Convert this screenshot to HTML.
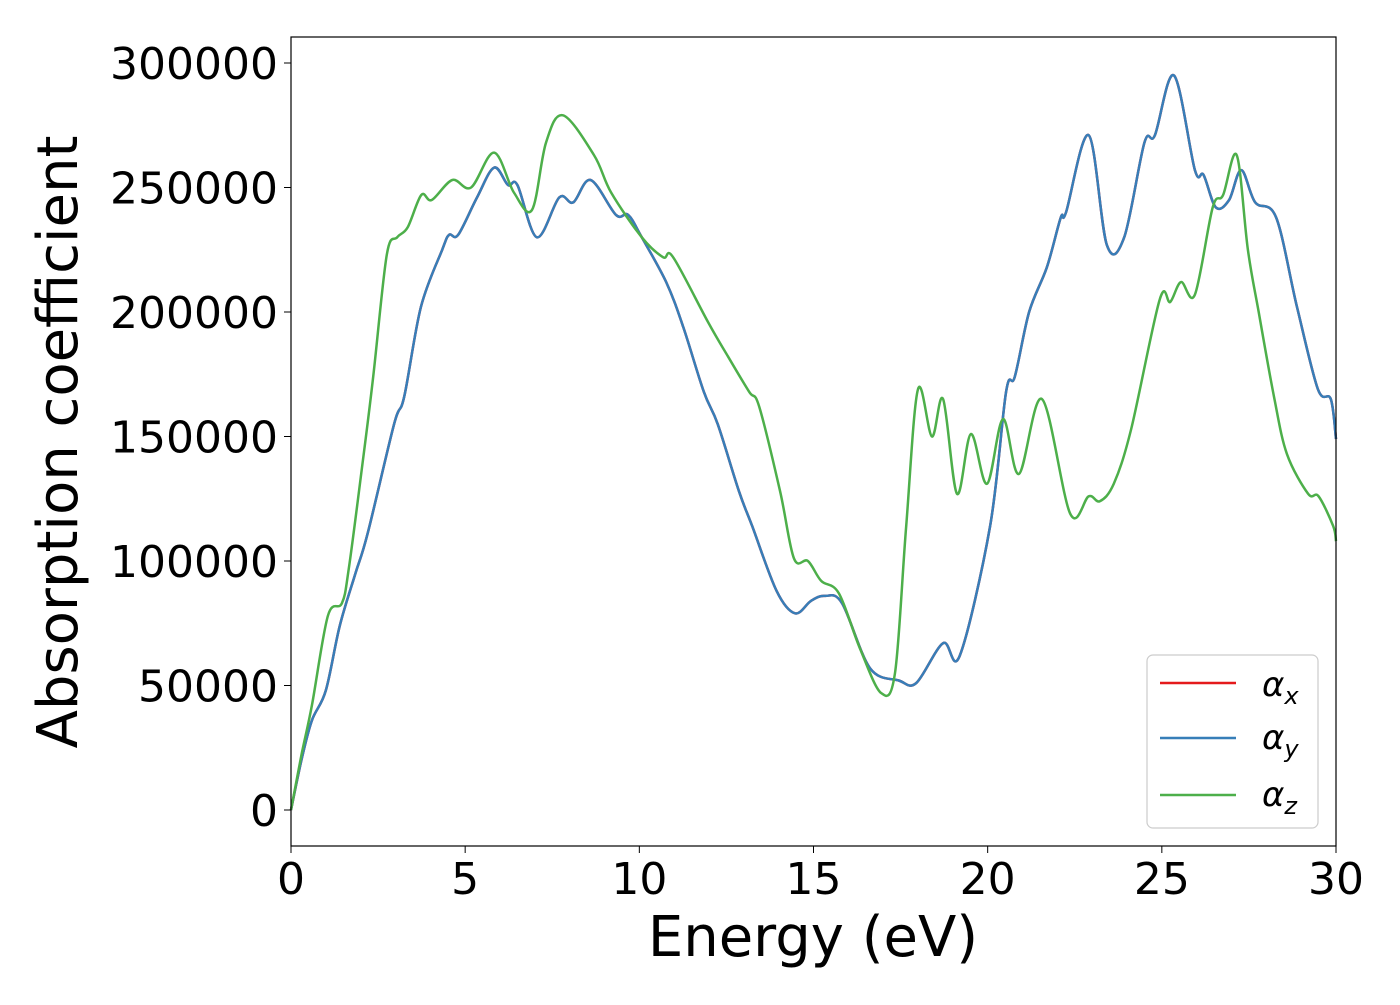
<!DOCTYPE html>
<html><head><meta charset="utf-8"><style>
html,body{margin:0;padding:0;background:#fff;}
svg text{font-family:"DejaVu Sans","Liberation Sans",sans-serif;fill:#000;}
</style></head><body>
<svg id="chart" width="1400" height="1000" viewBox="0 0 1400 1000" xmlns="http://www.w3.org/2000/svg">
<g id="plot"></g>
<rect x="291" y="37" width="1045" height="809" fill="none" stroke="#000" stroke-width="1.2"/>
<g id="xticks"></g><g id="yticks"></g>
<text x="813" y="956" font-size="56" text-anchor="middle">Energy (eV)</text>
<text transform="translate(77,442) rotate(-90)" font-size="56" text-anchor="middle">Absorption coefficient</text>
<g>
<rect x="1147" y="655" width="171" height="173" rx="6" fill="#fff" fill-opacity="0.8" stroke="#ccc" stroke-width="1.2"/>
<line x1="1160" y1="683" x2="1236" y2="683" stroke="#e41a1c" stroke-width="2.5"/>
<text x="1262" y="696" font-size="34" font-style="italic">α<tspan font-size="24" dy="8">x</tspan></text>
<line x1="1160" y1="738" x2="1236" y2="738" stroke="#377eb8" stroke-width="2.5"/>
<text x="1262" y="749" font-size="34" font-style="italic">α<tspan font-size="24" dy="8">y</tspan></text>
<line x1="1160" y1="795" x2="1236" y2="795" stroke="#4daf4a" stroke-width="2.5"/>
<text x="1262" y="806" font-size="34" font-style="italic">α<tspan font-size="24" dy="8">z</tspan></text>
</g>
</svg>
<script>
const energyY=[0,0.3,0.6,1.0,1.4,1.85,2.2,2.96,3.25,3.73,4.34,4.54,4.8,5.34,5.83,6.23,6.5,7.06,7.7,8.1,8.6,9.33,9.68,10.07,10.77,11.26,11.85,12.25,12.86,13.24,13.94,14.47,14.93,15.33,15.82,16.62,17.45,17.95,18.72,19.2,20.07,20.53,20.78,21.19,21.7,22.1,22.25,22.9,23.42,23.92,24.5,24.8,25.35,25.95,26.2,26.55,26.93,27.28,27.68,28.28,28.88,29.48,29.85,30];
const alphaY=[0,20000,36000,48000,74000,95000,111000,155000,166000,202000,225000,231000,231000,246000,258000,251000,251000,230000,246000,244000,253000,239000,239000,230000,212000,194000,168000,155000,128000,114000,88000,79000,84000,86000,83000,57000,52000,51000,67000,62000,114000,168000,174000,200000,218000,238000,240000,271000,227000,230000,268000,271000,295000,257000,255000,242000,245000,257000,244000,238000,202000,169000,165000,149000];
const alphaX=alphaY.slice();
const energyZ=[0,0.3,0.6,1.06,1.46,1.66,2.07,2.36,2.75,3.05,3.35,3.74,4.04,4.63,5.17,5.83,6.4,6.92,7.32,7.81,8.7,9.19,10.07,10.68,10.97,11.97,12.55,13.15,13.44,14.04,14.44,14.84,15.22,15.73,16.33,16.94,17.34,17.66,18.0,18.4,18.72,19.12,19.52,19.98,20.44,20.9,21.56,22.37,22.9,23.22,23.62,24.12,24.94,25.24,25.55,25.95,26.46,26.76,27.15,27.47,27.78,28.22,28.59,29.2,29.5,29.92,30];
const alphaZ=[0,22000,42000,78000,83000,97000,141000,174000,223000,230000,234000,247000,245000,253000,250000,264000,248000,241000,268000,279000,263000,248000,230000,222000,222000,196000,182000,168000,162000,128000,101000,100000,92000,87000,65000,47000,55000,114000,169000,150000,165000,127000,151000,131000,157000,135000,165000,119000,126000,124000,131000,153000,205000,204000,212000,207000,242000,247000,263000,225000,200000,166000,143000,127000,126000,114000,108000];
const xTicks=[0,5,10,15,20,25,30];
const yTicks=[0,50000,100000,150000,200000,250000,300000];
const sx=e=>291+e*(1045/30);
const sy=v=>810-v*(747/300000);
const NS="http://www.w3.org/2000/svg";
function pathD(xs,ys){
  const p=xs.map((e,i)=>[sx(e),sy(ys[i])]);
  let d="M"+p[0][0].toFixed(1)+","+p[0][1].toFixed(1);
  for(let i=0;i<p.length-1;i++){
    const p0=p[Math.max(0,i-1)],p1=p[i],p2=p[i+1],p3=p[Math.min(p.length-1,i+2)];
    const c1=[p1[0]+(p2[0]-p0[0])/6,p1[1]+(p2[1]-p0[1])/6];
    const c2=[p2[0]-(p3[0]-p1[0])/6,p2[1]-(p3[1]-p1[1])/6];
    d+=" C"+c1.map(v=>v.toFixed(1))+" "+c2.map(v=>v.toFixed(1))+" "+p2.map(v=>v.toFixed(1));
  }
  return d;
}
const plot=document.getElementById('plot');
[[energyY,alphaX,'#e41a1c','series-alpha-x'],[energyY,alphaY,'#377eb8','series-alpha-y'],[energyZ,alphaZ,'#4daf4a','series-alpha-z']].forEach(s=>{
  const el=document.createElementNS(NS,'path');
  el.setAttribute('d',pathD(s[0],s[1]));
  el.setAttribute('fill','none');el.setAttribute('stroke',s[2]);el.setAttribute('stroke-width','2.5');
  
  
  plot.appendChild(el);
});
const xt=document.getElementById('xticks');
xTicks.forEach(t=>{
  const l=document.createElementNS(NS,'line');
  l.setAttribute('x1',sx(t));l.setAttribute('x2',sx(t));l.setAttribute('y1',846);l.setAttribute('y2',853);l.setAttribute('stroke','#000');
  
  
  xt.appendChild(l);
  const tx=document.createElementNS(NS,'text');
  tx.setAttribute('x',sx(t));tx.setAttribute('y',894);tx.setAttribute('font-size','44');tx.setAttribute('text-anchor','middle');
  tx.textContent=t;
  
  
  xt.appendChild(tx);
});
const yt=document.getElementById('yticks');
yTicks.forEach(t=>{
  const l=document.createElementNS(NS,'line');
  l.setAttribute('x1',284);l.setAttribute('x2',291);l.setAttribute('y1',sy(t));l.setAttribute('y2',sy(t));l.setAttribute('stroke','#000');
  
  
  yt.appendChild(l);
  const tx=document.createElementNS(NS,'text');
  tx.setAttribute('x',278);tx.setAttribute('y',sy(t)+16);tx.setAttribute('font-size','44');tx.setAttribute('text-anchor','end');
  tx.textContent=t;
  
  
  yt.appendChild(tx);
});
</script>
</body></html>
